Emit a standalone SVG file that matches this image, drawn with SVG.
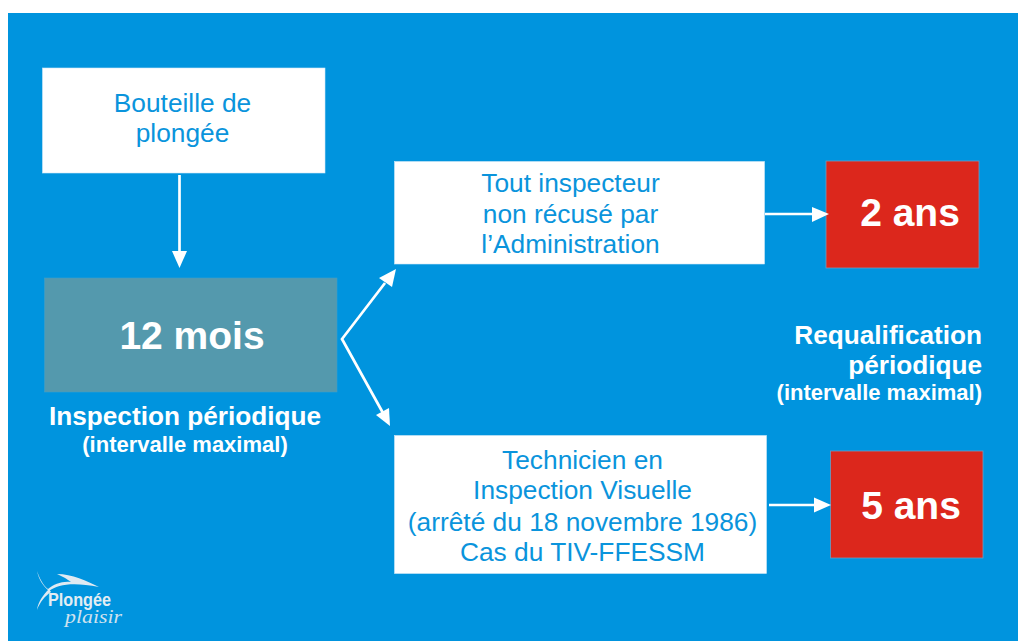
<svg xmlns="http://www.w3.org/2000/svg" width="1018" height="641" viewBox="0 0 1018 641">
<style>
text{font-family:"Liberation Sans",Arial,sans-serif}
.w{fill:#fff;stroke:#cfe8f7;stroke-width:.6}
.r{fill:#dc271c;stroke:#6f9bc0;stroke-width:.8}
.b{fill:#0a94dc;font-size:26.300px;text-anchor:middle}
.t{fill:#fff;font-weight:bold}
.c{stroke:#fff;stroke-width:2.700;fill:none}
.a{fill:#fff}
</style>
<rect width="1018" height="641" fill="#fff"/>
<rect x="8" y="13" width="1010" height="628" fill="#0094de"/>
<g id="n-bouteille"><rect class="w" x="42.500" y="68" width="282.500" height="105"/>
<text class="b" x="182.500" y="111.700">Bouteille de</text><text class="b" x="182.500" y="141.700">plongée</text></g>
<g id="n-12mois"><rect x="44.500" y="278" width="292.500" height="114" fill="#5499ad" stroke="#3f9fc8" stroke-width=".6"/>
<text class="t" x="192" y="349" font-size="39" text-anchor="middle">12 mois</text></g>
<g id="n-inspection"><text class="t" x="185" y="424.700" font-size="26.200" text-anchor="middle">Inspection périodique</text>
<text class="t" x="185" y="451.500" font-size="22" text-anchor="middle">(intervalle maximal)</text></g>
<g id="n-inspecteur"><rect class="w" x="394.500" y="161.500" width="370" height="102.500"/>
<text class="b" x="570.500" y="191.700">Tout inspecteur</text><text class="b" x="570.500" y="222.700">non récusé par</text><text class="b" x="570.500" y="253">l’Administration</text></g>
<g id="n-technicien"><rect class="w" x="394.500" y="435.500" width="372" height="138"/>
<text class="b" x="582.500" y="468.700">Technicien en</text><text class="b" x="582.500" y="498.700">Inspection Visuelle</text><text class="b" x="582.500" y="530.500">(arrêté du 18 novembre 1986)</text><text class="b" x="582.500" y="560.500">Cas du TIV-FFESSM</text></g>
<g id="n-2ans"><rect class="r" x="826" y="161" width="153" height="107"/>
<text class="t" x="910" y="226" font-size="39" text-anchor="middle">2 ans</text></g>
<g id="n-5ans"><rect class="r" x="830.500" y="451" width="152.500" height="107"/>
<text class="t" x="911" y="519" font-size="39" text-anchor="middle">5 ans</text></g>
<g id="n-requalification" text-anchor="end"><text class="t" x="982" y="343.700" font-size="26.200">Requalification</text>
<text class="t" x="982" y="373.700" font-size="26.200">périodique</text>
<text class="t" x="982" y="400" font-size="22">(intervalle maximal)</text></g>
<g id="connectors">
<path class="c" d="M179.500 175V254"/><path class="a" d="M172 251H187L179.500 268Z"/>
<path class="c" d="M765 214H816"/><path class="a" d="M812 207L829 214L812 222Z"/>
<path class="c" d="M769 505H818"/><path class="a" d="M814 497.500L831 505L814 512.500Z"/>
<path class="c" d="M385 283L342 339L383 413"/>
<path class="a" d="M396 269L392 287L379 278Z"/><path class="a" d="M390 426L376 415L389 408Z"/>
</g>
<g id="logo">
<path d="M37 571C39 580 43 586 49 591C58 584 74 582 99 587C87 581 72 574 57 574C66 578 68 580 71 582C62 581 54 584 48 589C43 585 40 579 37 571Z" fill="#dfeaf2"/>
<path d="M49 589C43 595 38 602 37 610C40 602 45 596 51 592Z" fill="#dfeaf2"/>
<text x="48" y="606" font-size="18" font-weight="bold" fill="#e3edf3" textLength="63" lengthAdjust="spacingAndGlyphs">Plongée</text>
<text x="65" y="623" font-size="19" font-style="italic" fill="#cfe2ee" style="font-family:'Liberation Serif',serif" textLength="57" lengthAdjust="spacingAndGlyphs">plaisir</text>
</g>
</svg>
